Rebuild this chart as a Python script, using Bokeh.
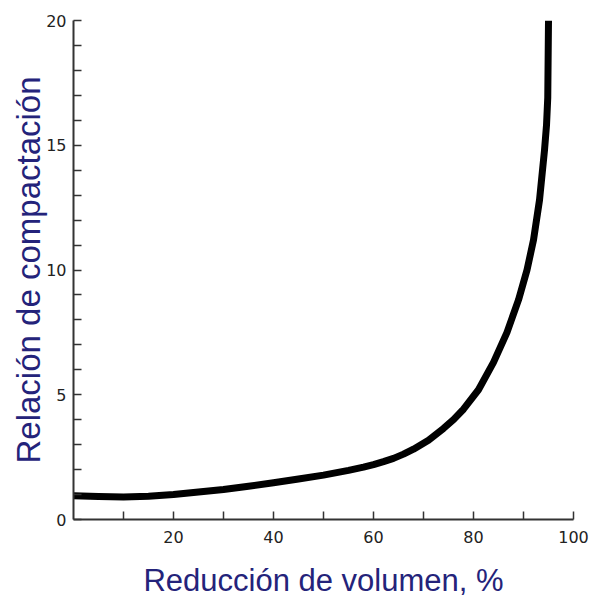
from bokeh.plotting import figure
from bokeh.models import FixedTicker, Range1d
from bokeh.embed import file_html
from bokeh.resources import INLINE

# Data
reduccion = [0, 5, 10, 15, 20, 25, 30, 35, 40, 45, 50, 55, 58, 60, 62, 64, 66, 68, 71,
             74, 76, 78, 81, 84, 86.7, 89, 90.7, 92, 93.2, 94.2, 94.6, 94.85, 95]
relacion = [0.95, 0.92, 0.9, 0.93, 1.0, 1.1, 1.2, 1.33, 1.47, 1.62, 1.78, 1.97, 2.1,
            2.2, 2.32, 2.45, 2.62, 2.82, 3.18, 3.65, 4.0, 4.42, 5.2, 6.3, 7.5, 8.8,
            10.0, 11.2, 12.8, 14.8, 15.8, 16.9, 20.0]

x_major = [20, 40, 60, 80, 100]
x_minor = [10, 30, 50, 70, 90]
y_major = [0, 5, 10, 15, 20]
y_minor = [v for v in range(1, 20) if v % 5 != 0]

x_title = "Reducción de volumen, %"
y_title = "Relación de compactación"

p = figure(width=590, height=600, output_backend="svg", toolbar_location=None,
           x_range=Range1d(0, 100), y_range=Range1d(0, 20),
           min_border_left=73, min_border_right=17, min_border_top=20, min_border_bottom=78)
p.outline_line_color = None
p.xgrid.grid_line_color = None
p.ygrid.grid_line_color = None
p.background_fill_color = "white"
p.border_fill_color = "white"

p.line(reduccion, relacion, line_color="black", line_width=7,
       line_cap="butt", line_join="round")

title_color = "#24237a"
for ax in (p.xaxis[0], p.yaxis[0]):
    ax.axis_line_color = "#333333"
    ax.axis_line_width = 2
    ax.major_tick_in = 8
    ax.major_tick_out = 0
    ax.minor_tick_in = 8
    ax.minor_tick_out = 0
    ax.major_tick_line_color = "#333333"
    ax.minor_tick_line_color = "#333333"
    ax.major_tick_line_width = 1.5
    ax.minor_tick_line_width = 1.5
    ax.major_label_text_font = "DejaVu Sans"
    ax.major_label_text_font_size = "16px"
    ax.major_label_text_color = "#222222"
    ax.axis_label_text_font = "Liberation Sans"
    ax.axis_label_text_font_style = "normal"
    ax.axis_label_text_color = title_color

p.xaxis[0].ticker = FixedTicker(ticks=x_major, minor_ticks=x_minor)
p.yaxis[0].ticker = FixedTicker(ticks=y_major, minor_ticks=y_minor)
p.xaxis[0].axis_label = x_title
p.yaxis[0].axis_label = y_title
p.xaxis[0].axis_label_text_font_size = "31px"
p.yaxis[0].axis_label_text_font_size = "33px"
p.xaxis[0].major_label_standoff = 11
p.yaxis[0].major_label_standoff = 7
p.xaxis[0].axis_label_standoff = 17
p.yaxis[0].axis_label_standoff = -4

open("out.html", "w").write(file_html(p, INLINE))
